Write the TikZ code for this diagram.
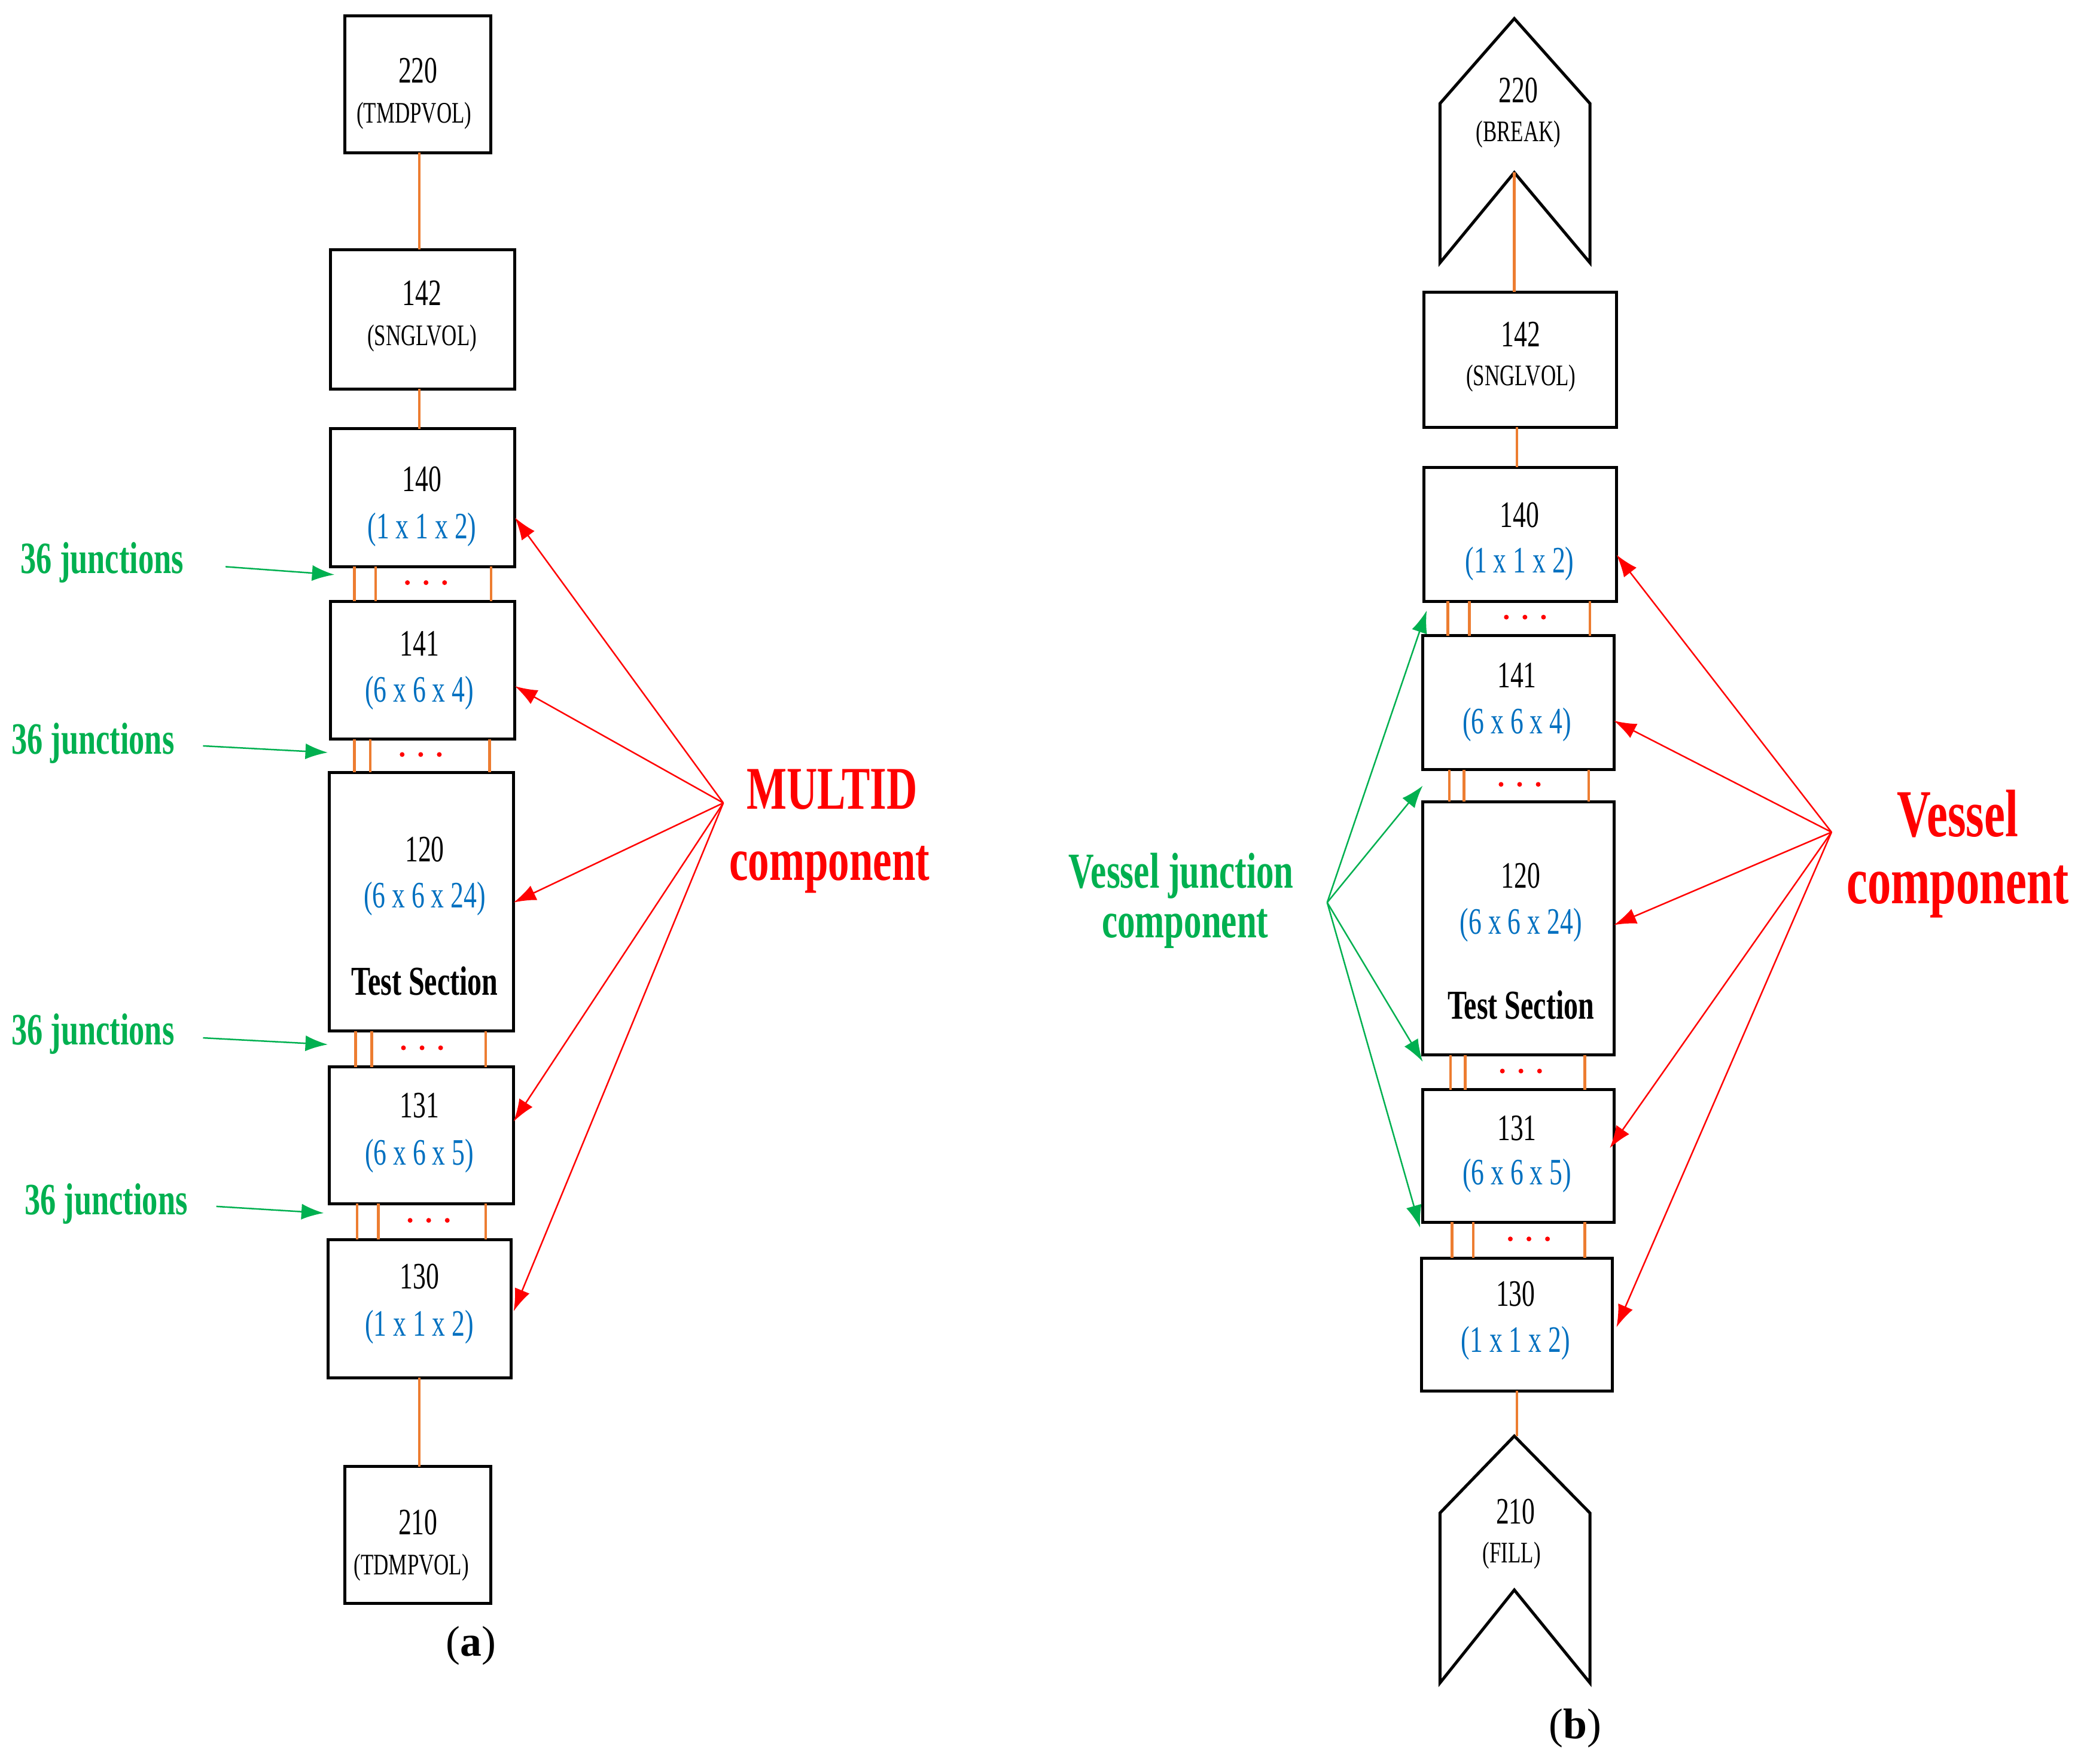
\documentclass[tikz,border=0pt]{standalone}
\usepackage{fontspec}
\setmainfont{Liberation Serif}
\usetikzlibrary{arrows.meta}
\definecolor{jor}{RGB}{237,125,49}
\definecolor{jbl}{RGB}{0,112,192}
\definecolor{jgr}{RGB}{0,176,80}
\newcommand{\cn}[2]{\scalebox{#1}[1]{#2}}
\newcommand{\fs}[1]{\fontsize{#1}{#1}\selectfont}
\begin{document}
\begin{tikzpicture}[x=0.05cm,y=-0.05cm,
  box/.style={draw,line width=3.2pt},
  con/.style={jor,line width=3pt},
  jl/.style={jor,line width=3pt},
  rl/.style={red,line width=1.6pt,-{Latex[length=24pt,width=17pt]}},
  gl/.style={jgr,line width=1.6pt,-{Latex[length=24pt,width=17pt]}},
  num/.style={font=\fs{40}},
  typ/.style={font=\fs{32}},
  dim/.style={font=\fs{40},text=jbl},
  lab/.style={font=\fs{48}\bfseries}]
\useasboundingbox (0,0) rectangle (1568,1329);
% ---------- (a)
\draw[box] (260,12) rectangle (370,115);
\node[num] at (315,53) {\cn{0.7}{220}}; \node[typ] at (312,87) {\cn{0.7}{(TMDPVOL)}};
\draw[box] (249,188) rectangle (388,293);
\node[num] at (318,221) {\cn{0.7}{142}}; \node[typ] at (318,255) {\cn{0.7}{(SNGLVOL)}};
\draw[box] (249,323) rectangle (388,427);
\node[num] at (318,361) {\cn{0.7}{140}}; \node[dim] at (318,399) {\cn{0.7}{(1 x 1 x 2)}};
\draw[box] (249,453) rectangle (388,557);
\node[num] at (316,485) {\cn{0.7}{141}}; \node[dim] at (316,522) {\cn{0.7}{(6 x 6 x 4)}};
\draw[box] (248,582) rectangle (387,777);
\node[num] at (320,640) {\cn{0.7}{120}}; \node[dim] at (320,677) {\cn{0.7}{(6 x 6 x 24)}};
\node[font=\fs{44}\bfseries] at (320,739) {\cn{0.7}{Test Section}};
\draw[box] (248,804) rectangle (387,907);
\node[num] at (316,833) {\cn{0.7}{131}}; \node[dim] at (316,871) {\cn{0.7}{(6 x 6 x 5)}};
\draw[box] (247,934) rectangle (385,1038);
\node[num] at (316,962) {\cn{0.7}{130}}; \node[dim] at (316,1000) {\cn{0.7}{(1 x 1 x 2)}};
\draw[box] (260,1105) rectangle (370,1208);
\node[num] at (315,1147) {\cn{0.7}{210}}; \node[typ] at (310,1181) {\cn{0.7}{(TDMPVOL)}};
\draw[con] (316,115)--(316,188); \draw[con] (316,293)--(316,323); \draw[con] (316,1038)--(316,1105);
\foreach \ya/\yb/\xa/\xb/\xc in {427/453/267/283/370, 557/582/267/279/369, 777/804/268/280/366, 907/934/269/285/366}{
  \draw[jl] (\xa,\ya)--(\xa,\yb); \draw[jl] (\xb,\ya)--(\xb,\yb); \draw[jl] (\xc,\ya)--(\xc,\yb);
  \foreach \d in {0,1,2}{\fill[red] ({\xb+24+\d*14},{(\ya+\yb)/2-1}) circle (1.8);}
}
\node[lab,text=jgr] at (77,424) {\cn{0.7}{36 junctions}};
\node[lab,text=jgr] at (70,560) {\cn{0.7}{36 junctions}};
\node[lab,text=jgr] at (70,779) {\cn{0.7}{36 junctions}};
\node[lab,text=jgr] at (80,907) {\cn{0.7}{36 junctions}};
\draw[gl] (170,427)--(252,433); \draw[gl] (153,562)--(247,567);
\draw[gl] (153,782)--(247,787); \draw[gl] (163,909)--(244,914);
\node[font=\fs{65}\bfseries,text=red] at (627,595) {\cn{0.7}{MULTID}};
\node[font=\fs{65}\bfseries,text=red] at (625,655) {\cn{0.7}{component}};
\coordinate (ma) at (545,605);
\foreach \p in {(388,390),(388,517),(387,680),(387,845),(387,988)} \draw[rl] (ma)--\p;
\node[font=\fs{46}] at (355,1240) {(\textbf{a})};
% ---------- (b)
\draw[line width=3.2pt,line join=miter] (1085,198)--(1085,78)--(1141,14)--(1198,78)--(1198,198)--(1141,130)--cycle;
\node[num] at (1144,68) {\cn{0.7}{220}}; \node[typ] at (1144,101) {\cn{0.7}{(BREAK)}};
\draw[box] (1073,220) rectangle (1218,322);
\node[num] at (1146,252) {\cn{0.7}{142}}; \node[typ] at (1146,285) {\cn{0.7}{(SNGLVOL)}};
\draw[box] (1073,352) rectangle (1218,453);
\node[num] at (1145,388) {\cn{0.7}{140}}; \node[dim] at (1145,425) {\cn{0.7}{(1 x 1 x 2)}};
\draw[box] (1072,479) rectangle (1216,580);
\node[num] at (1143,509) {\cn{0.7}{141}}; \node[dim] at (1143,546) {\cn{0.7}{(6 x 6 x 4)}};
\draw[box] (1072,604) rectangle (1216,795);
\node[num] at (1146,660) {\cn{0.7}{120}}; \node[dim] at (1146,697) {\cn{0.7}{(6 x 6 x 24)}};
\node[font=\fs{44}\bfseries] at (1146,757) {\cn{0.7}{Test Section}};
\draw[box] (1072,821) rectangle (1216,921);
\node[num] at (1143,850) {\cn{0.7}{131}}; \node[dim] at (1143,886) {\cn{0.7}{(6 x 6 x 5)}};
\draw[box] (1071,948) rectangle (1215,1048);
\node[num] at (1142,975) {\cn{0.7}{130}}; \node[dim] at (1142,1012) {\cn{0.7}{(1 x 1 x 2)}};
\draw[line width=3.2pt,line join=miter] (1085,1268)--(1085,1140)--(1141,1082)--(1198,1140)--(1198,1268)--(1141,1198)--cycle;
\node[num] at (1142,1139) {\cn{0.7}{210}}; \node[typ] at (1139,1172) {\cn{0.7}{(FILL)}};
\draw[con] (1141,130)--(1141,220); \draw[con] (1143,322)--(1143,352); \draw[con] (1143,1048)--(1143,1082);
\foreach \ya/\yb/\xa/\xb/\xc in {453/479/1091/1107/1198, 580/604/1092/1103/1197, 795/821/1093/1104/1194, 921/948/1094/1110/1194}{
  \draw[jl] (\xa,\ya)--(\xa,\yb); \draw[jl] (\xb,\ya)--(\xb,\yb); \draw[jl] (\xc,\ya)--(\xc,\yb);
  \foreach \d in {0,1,2}{\fill[red] ({\xb+28+\d*14},{(\ya+\yb)/2-1}) circle (1.8);}
}
\node[font=\fs{54}\bfseries,text=jgr] at (890,660) {\cn{0.7}{Vessel junction}};
\node[font=\fs{54}\bfseries,text=jgr] at (893,700) {\cn{0.7}{component}};
\coordinate (vj) at (1000,680);
\foreach \p in {(1075,460),(1072,592),(1072,800),(1070,925)} \draw[gl] (vj)--\p;
\node[font=\fs{72}\bfseries,text=red] at (1475,613) {\cn{0.7}{Vessel}};
\node[font=\fs{72}\bfseries,text=red] at (1475,672) {\cn{0.7}{component}};
\coordinate (vc) at (1380,627);
\foreach \p in {(1218,418),(1216,543),(1216,697),(1213,865),(1218,1000)} \draw[rl] (vc)--\p;
\node[font=\fs{46}] at (1187,1302) {(\textbf{b})};
\end{tikzpicture}
\end{document}
